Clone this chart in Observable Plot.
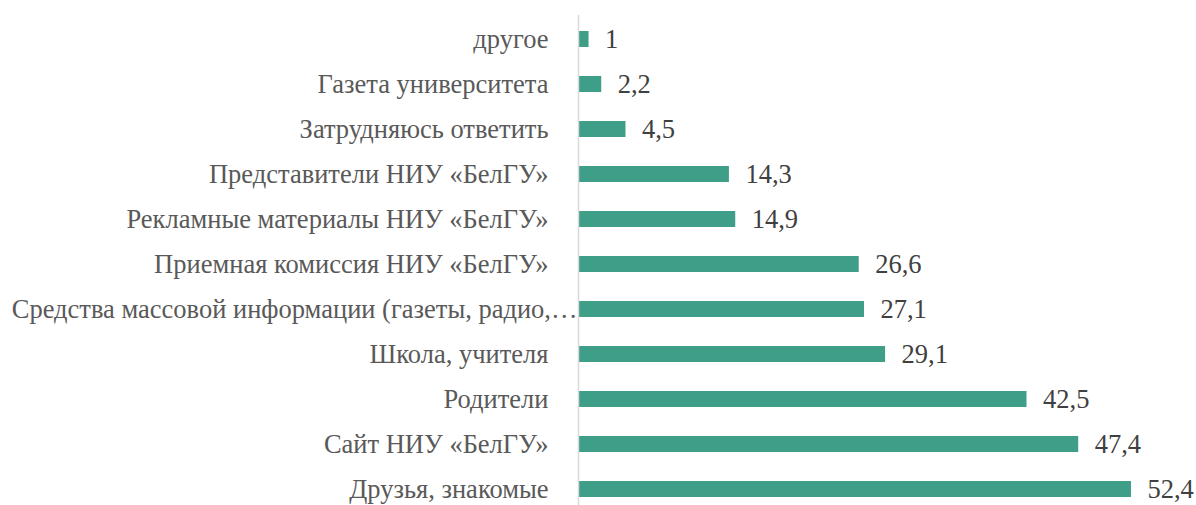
<!DOCTYPE html>
<html><head><meta charset="utf-8">
<script src="https://cdn.jsdelivr.net/npm/d3@7"></script>
<script src="https://cdn.jsdelivr.net/npm/@observablehq/plot@0.6"></script>
<style>body{margin:0;background:#fff}</style>
</head><body><div id="chart"></div>
<script>
const categories = ["другое","Газета университета","Затрудняюсь ответить","Представители НИУ «БелГУ»","Рекламные материалы НИУ «БелГУ»","Приемная комиссия НИУ «БелГУ»","Средства массовой информации (газеты, радио,…","Школа, учителя","Родители","Сайт НИУ «БелГУ»","Друзья, знакомые"];
const values = [1,2.2,4.5,14.3,14.9,26.6,27.1,29.1,42.5,47.4,52.4];
const data = categories.map((c,i)=>({cat:c, v:values[i]}));
const fmt = v => String(v).replace(".", ",");
const k = 10.553;
const serif = "Liberation Serif";
const fs = 26.5;
const longCat = categories[6];
const chart = Plot.plot({
  width:1196, height:505,
  marginLeft:578, marginRight:6, marginTop:15, marginBottom:0,
  style:{fontSize:fs+"px", color:"#595959", background:"#fff"},
  x:{domain:[0,58], range:[578, 578+58*k], axis:null},
  y:{domain:categories, range:[15.4,512.6], paddingInner:0.65, paddingOuter:0.325, label:null},
  marks:[
    Plot.axisY({ticks:categories.filter(c=>c!==longCat), tickSize:0, tickPadding:30, fontSize:fs, fontFamily:serif, fill:"#595959"}),
    Plot.axisY({ticks:[longCat], tickSize:0, tickPadding:1, fontSize:fs, fontFamily:serif, fill:"#595959"}),
    Plot.barX(data,{x:"v", y:"cat", fill:"#3f9e88"}),
    Plot.ruleX([0],{stroke:"#d9d9d9", strokeWidth:1.5}),
    Plot.text(data,{x:"v", y:"cat", text:d=>fmt(d.v), textAnchor:"start", dx:16, fontSize:fs, fontFamily:serif, fill:"#404040"})
  ]
});
document.getElementById("chart").appendChild(chart);
</script></body></html>
